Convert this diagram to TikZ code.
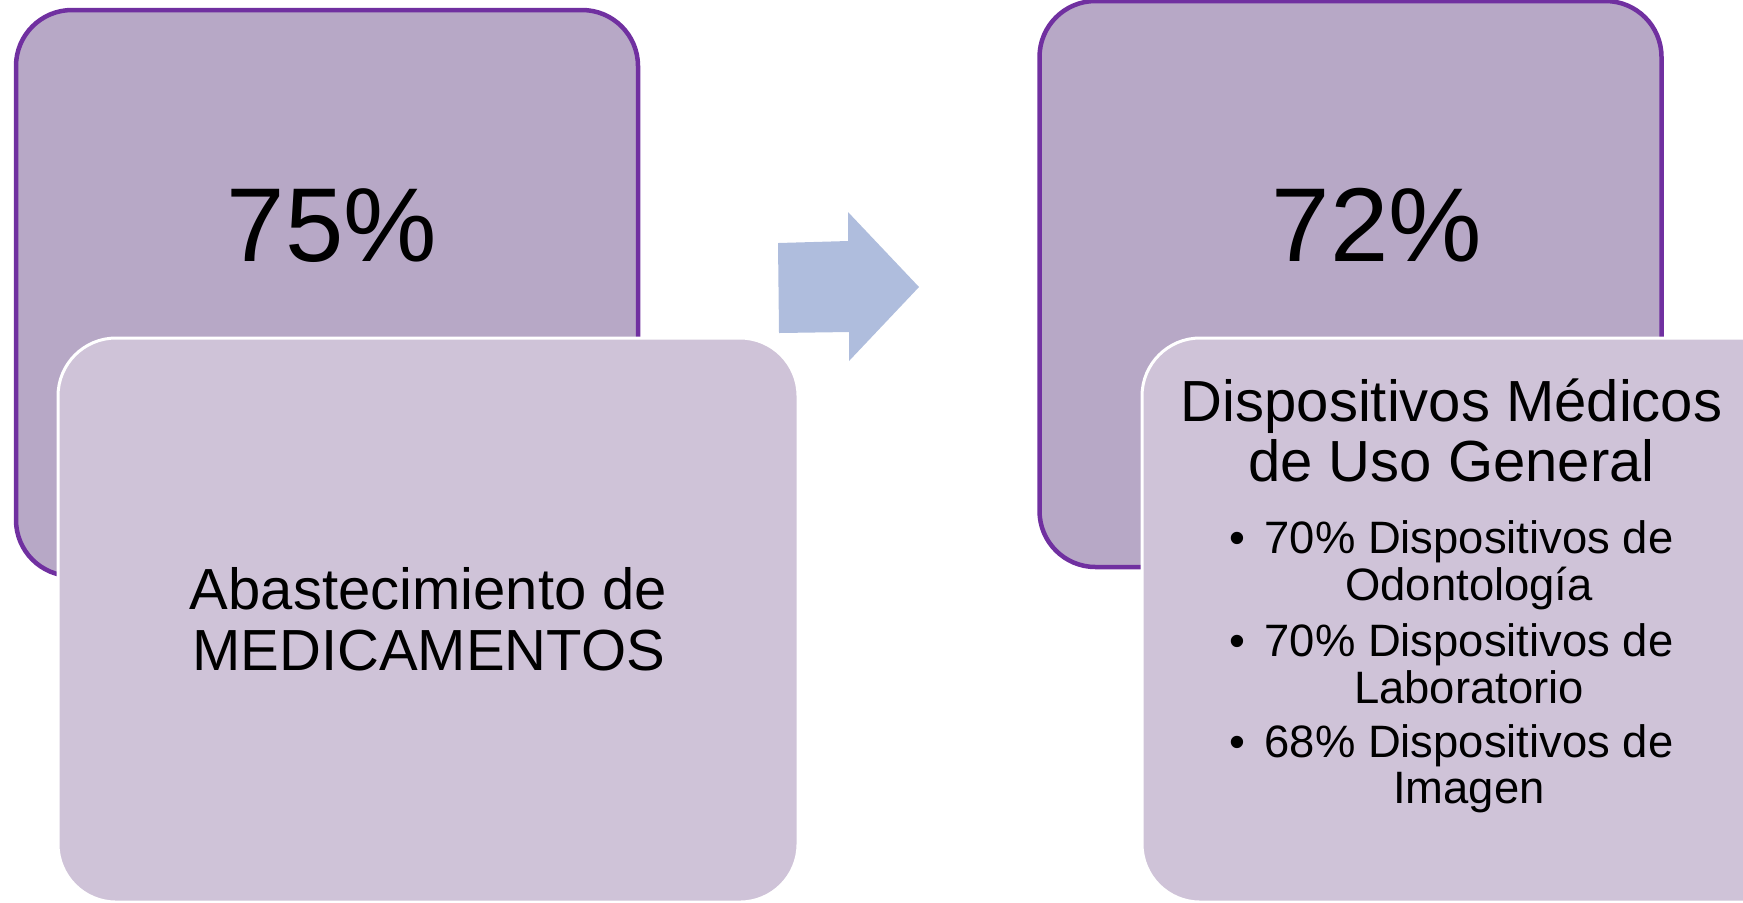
\documentclass[tikz,border=0pt]{standalone}
\usepackage{fontspec}
\setmainfont{Liberation Sans}
\usetikzlibrary{positioning}

\definecolor{backfill}{RGB}{183,168,198}
\definecolor{frontfill}{RGB}{207,195,216}
\definecolor{rimpurple}{RGB}{112,48,160}
\definecolor{arrowblue}{RGB}{175,189,221}

\begin{document}
\begin{tikzpicture}[x=0.5pt, y=-0.5pt,
    backbox/.style={rectangle, rounded corners=28pt, draw=rimpurple, line width=2.25pt,
        fill=backfill, minimum width=311pt, minimum height=283pt, inner sep=0pt},
    frontbox/.style={rectangle, rounded corners=29pt, draw=white, line width=1.5pt,
        fill=frontfill, minimum width=370pt, minimum height=282pt, inner sep=0pt},
    pct/.style={anchor=base, inner sep=0pt, font=\fontsize{52.5}{60}\selectfont},
    caption/.style={anchor=base, inner sep=0pt, font=\fontsize{29}{31}\selectfont},
    bulletline/.style={anchor=base, inner sep=0pt, font=\fontsize{22.7}{24}\selectfont}]
    \useasboundingbox (0,0) rectangle (1743,902);
    \clip (0,0) rectangle (1743,902);

    % medicamentos
    \node[backbox]  (medback)  at (327,293)   {};
    \node[frontbox] (medfront) at (428,620)   {};
    \node[pct]      (medpct)   at (332,261)   {75\%};
    \node[caption]  (medline1) at (428.5,609) {Abastecimiento de};
    \node[caption]  (medline2) at (428.5,670) {MEDICAMENTOS};

    % block arrow
    \fill[arrowblue] (778,243) -- (848,241) -- (848,212) -- (919,287)
        -- (849,361) -- (849,332) -- (779,333) -- cycle;

    % dispositivos
    \node[backbox]  (devback)  at (1350.5,284) {};
    \node[frontbox] (devfront) at (1512,620)   {};
    \node[pct]      (devpct)   at (1377,261)   {72\%};
    \node[caption]  (devhead1) at (1451.5,421) {Dispositivos Médicos};
    \node[caption]  (devhead2) at (1451.5,481) {de Uso General};

    \foreach \y/\txt [count=\i] in {553/70\% Dispositivos de, 600/Odontología,
            656/70\% Dispositivos de, 703/Laboratorio,
            757/68\% Dispositivos de, 803/Imagen}
        \node[bulletline] (devline\i) at (1469,\y) {\txt};
    \foreach \y [count=\i] in {553,656,757}
        \node[bulletline] (devdot\i) at (1237,\y) {\textbullet};
\end{tikzpicture}
\end{document}
